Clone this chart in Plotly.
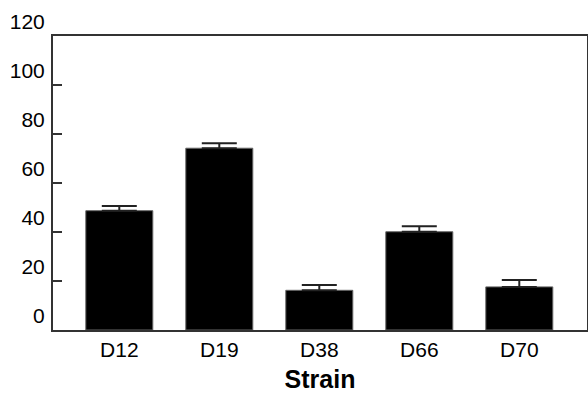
import plotly.graph_objects as go

strains = ["D12", "D19", "D38", "D66", "D70"]
values = [48.7, 74.2, 16.2, 40.1, 17.6]
errors = [1.9, 2.0, 2.2, 2.2, 2.8]
y_ticks = [0, 20, 40, 60, 80, 100, 120]

fig = go.Figure()
fig.add_trace(go.Bar(
    x=list(range(len(strains))),
    y=values,
    width=0.67,
    marker=dict(color="black", line=dict(color="#666666", width=1)),
    error_y=dict(type="data", symmetric=False, array=errors,
                 arrayminus=[0] * len(errors), thickness=2, width=17.5,
                 color="#222222"),
))

font = "Liberation Sans, Arial, sans-serif"
fig.update_layout(
    width=588, height=395,
    margin=dict(l=53, r=1, t=36, b=65, autoexpand=False),
    plot_bgcolor="white", paper_bgcolor="white",
    showlegend=False,
    font=dict(family=font, size=21, color="black"),
)
fig.update_xaxes(
    range=[-0.663, 4.677], automargin=False,
    tickmode="array", tickvals=list(range(len(strains))), ticktext=strains,
    ticks="", showline=True, linecolor="#333333", linewidth=2, mirror=True,
    showgrid=False, zeroline=False,
    tickfont=dict(size=21),
    title=dict(text="Strain", font=dict(size=25, weight="bold"), standoff=10),
)
fig.update_yaxes(
    range=[0, 120], automargin=False,
    tickmode="array", tickvals=y_ticks, ticktext=[str(v) for v in y_ticks],
    ticks="inside", ticklen=9, tickwidth=1.5, tickcolor="#333333",
    showline=True, linecolor="#333333", linewidth=2, mirror=True,
    showgrid=False, zeroline=False,
    tickfont=dict(size=21),
    ticklabelshift=-14, ticklabelstandoff=2,
)
fig.write_html("out.html", config={"displayModeBar": False})
with open("out.html", encoding="utf-8") as f:
    html = f.read()
html = html.replace("<head>", "<head><style>html,body{margin:0;padding:0;overflow:hidden}</style>", 1)
with open("out.html", "w", encoding="utf-8") as f:
    f.write(html)
